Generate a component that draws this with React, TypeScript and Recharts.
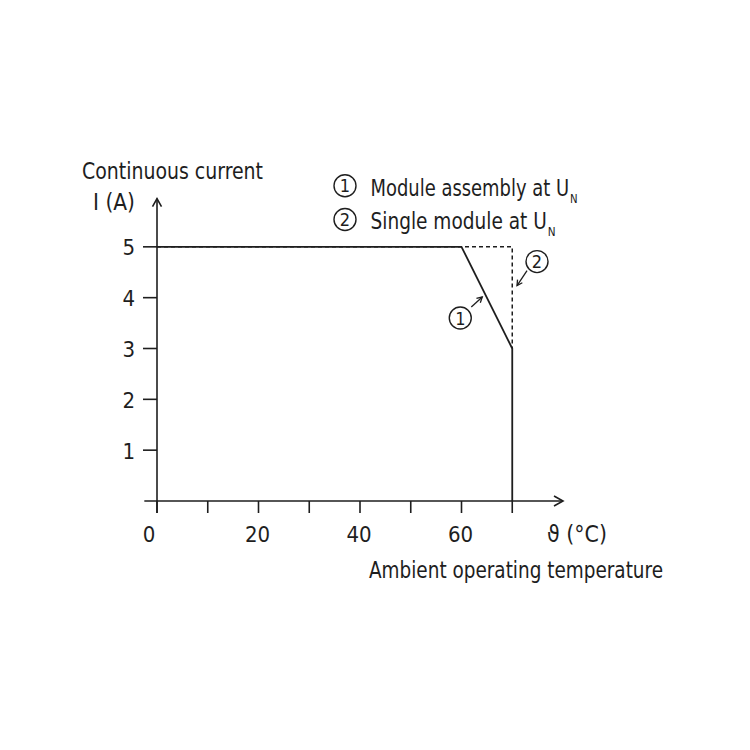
import React from "react";
import {
  LineChart,
  Line,
  XAxis,
  YAxis,
  ReferenceLine,
  ReferenceDot,
  Customized,
} from "recharts";

// derating curve
const xTicks = [0, 10, 20, 30, 40, 50, 60, 70];
const xLabelled = [0, 20, 40, 60];
const yTicks = [1, 2, 3, 4, 5];

const assemblyTemp = [0, 60, 70, 70];
const assemblyCurrent = [5, 5, 3, 0];

const singleTemp = [0, 70, 70];
const singleCurrent = [5, 5, 3];

const legendItems = ["Module assembly at U", "Single module at U"];

const assembly = assemblyTemp.map((t, i) => ({ t, i: assemblyCurrent[i] }));
const single = singleTemp.map((t, i) => ({ t, i: singleCurrent[i] }));

const INK = "#1e1e1e";
const FONT =
  "'Liberation Sans Narrow', 'DejaVu Sans Condensed', 'Roboto Condensed', Roboto, sans-serif";

function XTick(props: any) {
  const { x, y, payload } = props;
  if (!xLabelled.includes(payload.value)) return null;
  const shift = payload.value === 0 ? -8 : -1;
  return (
    <text x={x + shift} y={y + 28.5} textAnchor="middle" fontSize={22} fill={INK} fontFamily={FONT}>
      {payload.value}
    </text>
  );
}

function YTick(props: any) {
  const { x, y, payload } = props;
  return (
    <text x={x} y={y + 8.5} textAnchor="end" fontSize={22} fill={INK} fontFamily={FONT}>
      {payload.value}
    </text>
  );
}

function ArrowRight(props: any) {
  const { cx, cy } = props;
  return (
    <path
      d={`M${cx - 9},${cy - 5} L${cx},${cy} L${cx - 9},${cy + 5}`}
      fill="none"
      stroke={INK}
      strokeWidth={1.6}
    />
  );
}

function ArrowUp(props: any) {
  const { cx, cy } = props;
  return (
    <path
      d={`M${cx - 4.5},${cy + 8} L${cx},${cy} L${cx + 4.5},${cy + 8}`}
      fill="none"
      stroke={INK}
      strokeWidth={1.6}
    />
  );
}

function Badge({ x, y, n }: { x: number; y: number; n: number }) {
  return (
    <g>
      <circle cx={x} cy={y} r={11} fill="none" stroke={INK} strokeWidth={1.4} />
      <text x={x} y={y + 6.5} textAnchor="middle" fontSize={18} fill={INK} fontFamily={FONT}>
        {n}
      </text>
    </g>
  );
}

// circled number with a small arrow pointing at its curve
function makeCallout(n: number, dx: number, dy: number, tx: number, ty: number) {
  return (props: any) => {
    const { cx, cy } = props;
    const x2 = cx + tx;
    const y2 = cy + ty;
    const ang = Math.atan2(ty - dy, tx - dx);
    const h = 6;
    const a1 = ang + Math.PI - 0.5;
    const a2 = ang + Math.PI + 0.5;
    return (
      <g>
        <Badge x={cx} y={cy} n={n} />
        <line x1={cx + dx} y1={cy + dy} x2={x2} y2={y2} stroke={INK} strokeWidth={1.3} />
        <path
          d={`M${x2 + h * Math.cos(a1)},${y2 + h * Math.sin(a1)} L${x2},${y2} L${x2 + h * Math.cos(a2)},${y2 + h * Math.sin(a2)}`}
          fill="none"
          stroke={INK}
          strokeWidth={1.3}
        />
      </g>
    );
  };
}

function Texts() {
  const t = {
    fontSize: 23,
    fill: INK,
    fontFamily: FONT,
    lengthAdjust: "spacingAndGlyphs" as const,
  };
  return (
    <g>
      <text x={82} y={179} textLength={181} {...t}>Continuous current</text>
      <text x={93} y={210} textLength={42} {...t}>I (A)</text>
      {legendItems.map((label, k) => {
        const cy = k === 0 ? 185.7 : 219.5;
        const base = k === 0 ? 195.7 : 228.5;
        const w = k === 0 ? 207 : 185;
        return (
          <g key={label}>
            <Badge x={345} y={cy} n={k + 1} />
            <text x={370.5} y={base} textLength={w} {...t}>
              {label}
              <tspan fontSize={13} dx={1} dy={7}>N</tspan>
            </text>
          </g>
        );
      })}
      <text x={547} y={541.5} textLength={60} {...t}>ϑ (°C)</text>
      <text x={369} y={578} textLength={294} {...t}>Ambient operating temperature</text>
    </g>
  );
}

export default function App() {
  return (
    <div style={{ position: "absolute", left: 0, top: 0, width: 750, height: 750, background: "#fff" }}>
      <LineChart
        width={750}
        height={750}
        margin={{ top: 196, right: 187, bottom: 209, left: 97 }}
      >
        <XAxis
          type="number"
          dataKey="t"
          domain={[0, 80]}
          ticks={xTicks}
          interval={0}
          axisLine={false}
          tickLine={{ stroke: INK, strokeWidth: 1.6 }}
          tickSize={12}
          tickMargin={0}
          tick={<XTick />}
          height={40}
          allowDataOverflow
        />
        <YAxis
          type="number"
          dataKey="i"
          domain={[0, 6]}
          ticks={yTicks}
          interval={0}
          axisLine={false}
          tickLine={{ stroke: INK, strokeWidth: 1.6 }}
          tickSize={14}
          tickMargin={8}
          tick={<YTick />}
          width={60}
          allowDataOverflow
        />
        <ReferenceLine
          segment={[{ x: -2.5, y: 0 }, { x: 80, y: 0 }]}
          stroke={INK}
          strokeWidth={1.6}
          ifOverflow="visible"
        />
        <ReferenceLine
          segment={[{ x: 0, y: -0.236 }, { x: 0, y: 5.95 }]}
          stroke={INK}
          strokeWidth={1.6}
          ifOverflow="visible"
        />
        <ReferenceDot x={80} y={0} shape={<ArrowRight />} ifOverflow="visible" />
        <ReferenceDot x={0} y={5.95} shape={<ArrowUp />} ifOverflow="visible" />
        <Line
          data={single}
          dataKey="i"
          type="linear"
          stroke={INK}
          strokeWidth={1.5}
          strokeDasharray="4 3"
          dot={false}
          isAnimationActive={false}
        />
        <Line
          data={assembly}
          dataKey="i"
          type="linear"
          stroke={INK}
          strokeWidth={1.8}
          dot={false}
          isAnimationActive={false}
        />
        <ReferenceDot
          x={59.76}
          y={3.6}
          ifOverflow="visible"
          shape={makeCallout(1, 11, -11, 22, -21)}
        />
        <ReferenceDot
          x={74.88}
          y={4.71}
          ifOverflow="visible"
          shape={makeCallout(2, -10, 9, -20, 24)}
        />
        <Customized component={Texts} />
      </LineChart>
    </div>
  );
}
